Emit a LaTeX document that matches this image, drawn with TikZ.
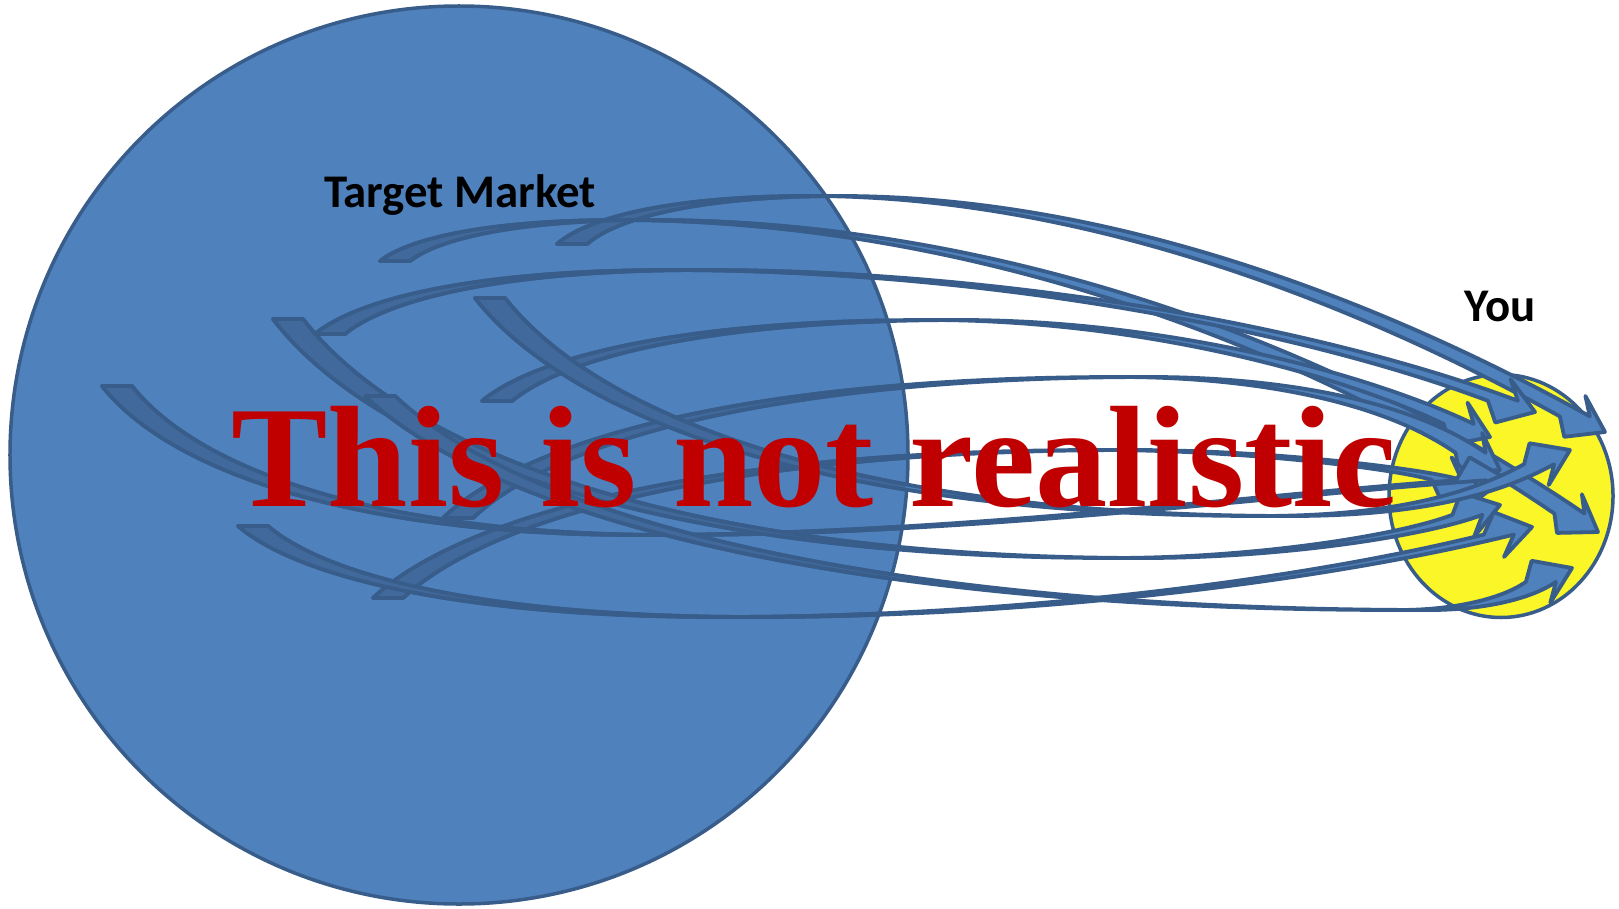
\documentclass[tikz,border=0pt]{standalone}
\usepackage{fontspec}
\setmainfont{Liberation Serif}
\newfontfamily\calfont{Carlito}
\usetikzlibrary{calc,shapes.geometric}
\definecolor{tmfill}{HTML}{4F81BD}
\definecolor{tmline}{HTML}{385D8A}
\definecolor{arrdark}{HTML}{41699B}
\definecolor{youfill}{RGB}{250,246,40}
\definecolor{warnred}{HTML}{C00000}
% tail point / turning point / approach control / head tip
\newcommand\arrowlist{%
557/244/810/196/1350/300/1605/432,
380/261/620/220/1300/340/1598/532,
315/334/671/270/1300/330/1535/412,
482/401/930/320/1330/370/1490/437,
443/518/1120/377/1380/400/1500/470,
373/598/1100/450/1400/470/1480/487,
102/386/640/535/1250/495/1505/478,
273/319/1113/558/1400/535/1500/505,
475/298/1260/516/1450/505/1570/450,
365/396/1400/610/1500/600/1572/568,
238/526/723/617/1300/580/1532/527}
\newcommand\drawarrows[1]{%
  \foreach \ax/\ay/\kx/\ky/\rx/\ry/\hx/\hy in \arrowlist {
    \coordinate (T) at (\ax,\ay);
    \coordinate (K) at (\kx,\ky);
    \coordinate (R) at (\rx,\ry);
    \coordinate (H) at (\hx,\hy);
    \coordinate (C1) at ($(T)!0.55!(T|-K) + 0.12*(K) - 0.12*(T|-K)$);
    \coordinate (C2) at ($(K)!0.55!(T|-K)$);
    \coordinate (Km) at ($(K)!0.5!(R)$);
    \coordinate (C3) at (Km|-K);
    \coordinate (Dd) at (30,0);
    \coordinate (M) at ($(H)!34bp!(R)$);
    \coordinate (E) at ($(M)-0.5*(Dd)$);
    \coordinate (Ep) at ($(M)!(E)!(H)$);
    \coordinate (N) at ($(M)+(E)-(Ep)$);
    \coordinate (Ba) at ($(M)!23bp!(N)$);
    \coordinate (Bb) at ($(M)!-23bp!(N)$);
    \path[#1] (T) .. controls (C1) and (C2) .. (K) .. controls (C3) and (R) .. (E)
      -- (Ba) -- (H) -- (Bb) -- ($(E)+(Dd)$)
      .. controls ($(R)+(Dd)$) and ($(C3)+(Dd)$) .. ($(K)+(Dd)$)
      .. controls ($(C2)+(Dd)$) and ($(C1)+(Dd)$) .. ($(T)+(Dd)$) -- cycle;
  }}
\tikzset{
  bigdisc/.style={circle, draw=tmline, fill=tmfill, line width=3.5bp, minimum size=898bp, inner sep=0pt},
  youdisc/.style={ellipse, draw=tmline, fill=youfill, line width=3.5bp, minimum width=224bp, minimum height=243bp, inner sep=0pt},
  band/.style={fill=tmfill, draw=tmline, line width=3.8bp, line join=round},
  darkband/.style={fill=arrdark, draw=tmline, line width=3.8bp, line join=round},
  label/.style={font=\calfont\bfseries\fontsize{47}{50}\selectfont, anchor=base, inner sep=0pt},
  warning/.style={font=\bfseries\fontsize{145}{150}\selectfont, text=warnred, anchor=base, inner sep=0pt}
}
\begin{document}
\begin{tikzpicture}[x=1bp,y=-1bp]
\useasboundingbox (0,0) rectangle (1619,908);
\fill[white] (0,0) rectangle (1619,908);
\node[bigdisc] (market) at (459,455) {};
\node[youdisc] (you) at (1501,496) {};
\drawarrows{band}
\begin{scope}
  \clip (459,455) circle[radius=447.5];
  \drawarrows{darkband}
\end{scope}
\node[label] (tmlabel) at (460,207) {Target Market};
\node[label] (youlabel) at (1500,321) {You};
\node[warning] (warn) at (814,506) {This is not realistic};
\end{tikzpicture}
\end{document}
